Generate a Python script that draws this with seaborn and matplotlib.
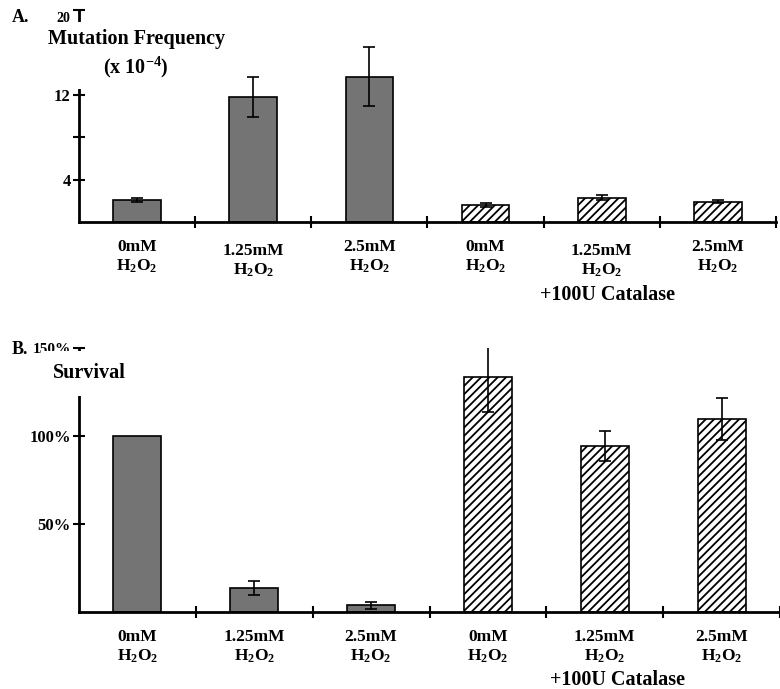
import numpy as np
import pandas as pd
import matplotlib
matplotlib.use('Agg')
import matplotlib.pyplot as plt
import matplotlib.transforms as mtransforms
import seaborn as sns

sns.set_style('ticks')
plt.rcParams['font.family'] = ['Liberation Serif', 'DejaVu Serif']
plt.rcParams['font.weight'] = 'bold'
plt.rcParams['mathtext.default'] = 'regular'
plt.rcParams['hatch.linewidth'] = 1.3
for k in ['text.color', 'xtick.color', 'ytick.color', 'axes.edgecolor', 'xtick.labelcolor', 'ytick.labelcolor']:
    plt.rcParams[k] = 'black'

# values
conds = ['0mM', '1.25mM', '2.5mM', '0mM cat', '1.25mM cat', '2.5mM cat']
doses = ['0mM', '1.25mM', '2.5mM', '0mM', '1.25mM', '2.5mM']
catalase = [False, False, False, True, True, True]
mut_freq = [2.1, 11.8, 13.7, 1.6, 2.3, 1.9]
mut_err = [0.2, 1.9, 2.8, 0.15, 0.25, 0.15]
survival = [100, 13.6, 3.8, 133.7, 94.3, 109.8]
surv_err = [0, 4.2, 2.0, 20.0, 8.5, 12.0]

df = pd.DataFrame({'cond': conds, 'dose': doses, 'catalase': catalase,
                   'mut': mut_freq, 'mut_err': mut_err,
                   'surv': survival, 'surv_err': surv_err})

W, H = 780, 689
fig = plt.figure(figsize=(W / 100, H / 100), dpi=100)

def px_axes(left, right, bottom, top):
    return fig.add_axes([left / W, 1 - bottom / H, (right - left) / W, (bottom - top) / H])

axA = px_axes(79, 776, 222, 10)
axB = px_axes(79, 780, 612, 348)

def draw(ax, col, ecol, ymax):
    sns.barplot(data=df, x='cond', y=col, order=conds, color='#747474',
                width=0.41, errorbar=None, edgecolor='black', linewidth=1.2, ax=ax)
    for p, cat in zip(ax.patches, df['catalase']):
        if cat:
            p.set_facecolor('white')
            p.set_hatch('////')
    m = df[ecol] > 0
    ax.errorbar(np.arange(len(df))[m], df[col][m], yerr=df[ecol][m], fmt='none',
                ecolor='black', elinewidth=1.2, capsize=4, capthick=1.2)
    ax.set_xlim(-0.5, 5.5)
    ax.set_ylim(0, ymax)
    ax.set_xlabel('')
    ax.set_ylabel('')
    ax.set_xticks(range(6))
    ax.set_xticklabels([d + '\nH$_2$O$_2$' for d in df['dose']], fontsize=12.5, fontweight='bold')
    ax.tick_params(axis='x', which='major', length=0, pad=12)
    ax.set_xticks(np.arange(0.5, 6, 1), minor=True)
    ax.tick_params(axis='x', which='minor', direction='inout', length=9, width=1.5)
    ax.tick_params(axis='y', direction='inout', length=8, width=1.5, pad=2, labelsize=12)
    for s in ['top', 'right']:
        ax.spines[s].set_visible(False)
    for s in ['left', 'bottom']:
        ax.spines[s].set_linewidth(2)
    ax.patch.set_alpha(0)

draw(axA, 'mut', 'mut_err', 20)
axA.set_yticks([4, 8, 12, 20])
axA.set_yticklabels(['4', '', '12', '20'])
lab20 = axA.get_yticklabels()[3]
lab20.set_fontsize(10)
lab20.set_transform(lab20.get_transform() + mtransforms.ScaledTranslation(0, -5 / 72, fig.dpi_scale_trans))
# the 1.25mM labels sit a little lower in panel A
for i in [1, 4]:
    t = axA.get_xticklabels()[i]
    t.set_transform(t.get_transform() + mtransforms.ScaledTranslation(0, -3 / 72, fig.dpi_scale_trans))
axA.text(0.082, 0.79, 'Mutation Frequency\n(x 10$^{-4}$)', transform=axA.transAxes,
         ha='center', va='center', fontsize=14.5, fontweight='bold', linespacing=1.35,
         bbox=dict(facecolor='white', edgecolor='none', pad=6), zorder=5)

draw(axB, 'surv', 'surv_err', 150)
axB.set_yticks([50, 100, 150])
axB.set_yticklabels(['50%', '100%', '150%'])
axB.get_yticklabels()[2].set_fontsize(11)
axB.text(-0.037, 0.905, 'Survival', transform=axB.transAxes,
         ha='left', va='center', fontsize=14.5, fontweight='bold',
         bbox=dict(facecolor='white', edgecolor='none', pad=9), zorder=5)

fig.text(12 / W, 1 - 18 / H, 'A.', ha='left', va='center', fontsize=13, fontweight='bold')
fig.text(12 / W, 1 - 350 / H, 'B.', ha='left', va='center', fontsize=13, fontweight='bold')
fig.text(608 / W, 1 - 295 / H, '+100U Catalase', ha='center', va='center', fontsize=14.5, fontweight='bold')
fig.text(617 / W, 1 - 680 / H, '+100U Catalase', ha='center', va='center', fontsize=14.5, fontweight='bold')

fig.savefig('out.png', dpi=100)
